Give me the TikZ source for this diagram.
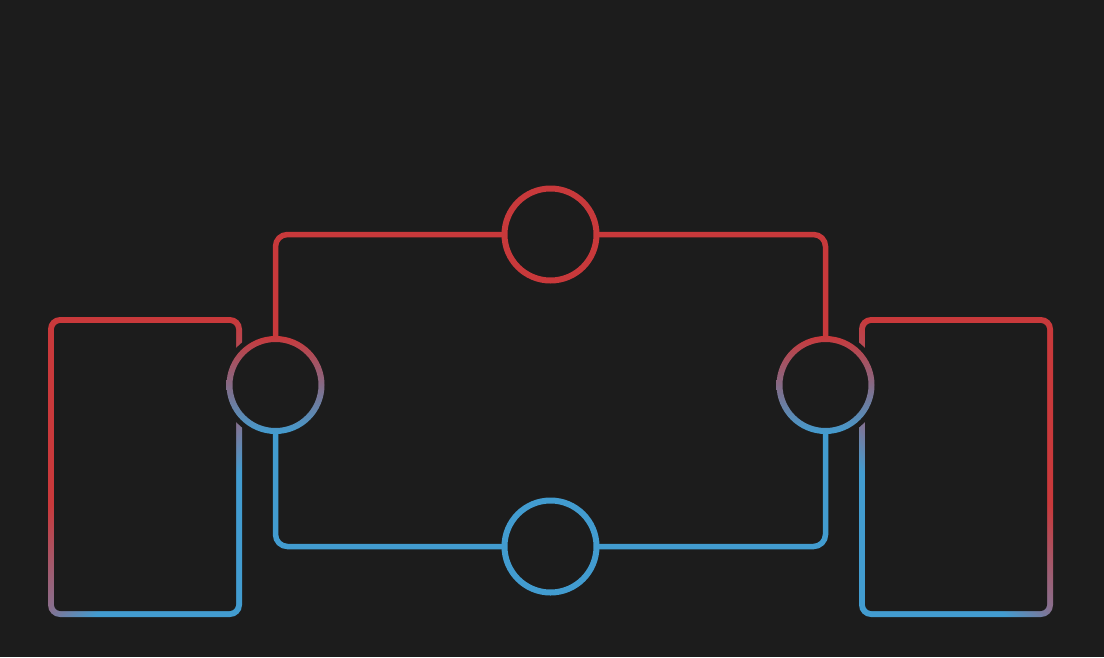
\documentclass[tikz,border=0pt]{standalone}
\usetikzlibrary{positioning}
\definecolor{bg}{HTML}{1C1C1C}
\definecolor{hot}{HTML}{C8393B}
\definecolor{cold}{HTML}{429CD0}
\definecolor{mix}{HTML}{8A6E8C}
\pgfdeclarehorizontalshading{loopshade}{100bp}{color(0bp)=(hot); color(44.9bp)=(hot); color(53.9bp)=(mix); color(58.8bp)=(cold); color(100bp)=(cold)}
\tikzset{
	valve/.style={circle, inner sep=0pt, minimum size=92pt},
	pipe/.style={line width=5.5pt, rounded corners=12pt},
	ring/.style={even odd rule, top color=hot, middle color=mix, bottom color=cold},
}
\begin{document}
\begin{tikzpicture}[x=1pt, y=-1pt]
	\fill [bg] (0,0) rectangle (1104,657);
	\useasboundingbox (0,0) rectangle (1104,657);
	\begin{scope}
		\clip [rounded corners=12pt] (48,317) rectangle (242,617);
		\shade [shading=loopshade, shading angle=-45] (-55,267.5) rectangle (345,667.5);
	\end{scope}
	\fill [bg, rounded corners=6.5pt] (54,323) rectangle (236,611);
	\begin{scope}
		\clip [rounded corners=12pt] (859,317) rectangle (1053,617);
		\shade [shading=loopshade, shading angle=-135] (756,267.5) rectangle (1156,667.5);
	\end{scope}
	\fill [bg, rounded corners=6.5pt] (865,323) rectangle (1047,611);
	\node [valve] (supply) at (550.5,234.5) {};
	\node [valve] (ret) at (550.5,546.5) {};
	\node [valve] (lhx) at (275.5,385) {};
	\node [valve] (rhx) at (825.5,385) {};
	\fill [bg] (lhx) circle (54pt);
	\fill [bg] (rhx) circle (54pt);
	\draw [pipe, hot] (lhx.north) |- (supply.west);
	\draw [pipe, hot] (supply.east) -| (rhx.north);
	\draw [pipe, cold] (lhx.south) |- (ret.west);
	\draw [pipe, cold] (ret.east) -| (rhx.south);
	\draw [hot, line width=6pt] (supply) circle (46pt);
	\draw [cold, line width=6pt] (ret) circle (46pt);
	\shade [ring] (lhx) circle (49pt) (lhx) circle (43pt);
	\shade [ring] (rhx) circle (49pt) (rhx) circle (43pt);
\end{tikzpicture}
\end{document}
